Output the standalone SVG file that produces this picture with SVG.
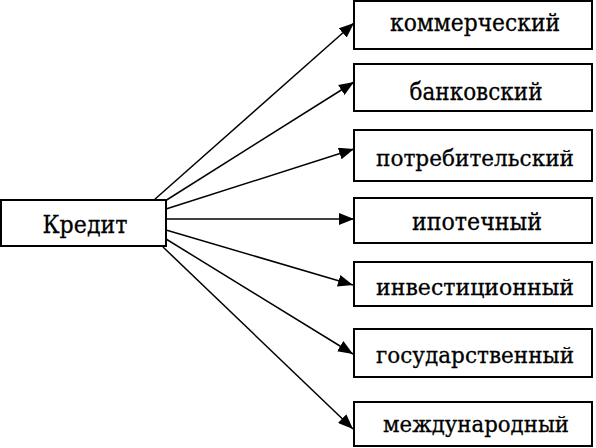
<svg xmlns="http://www.w3.org/2000/svg" width="596" height="448" viewBox="0 0 596 448">
<defs>
<marker id="ah" markerUnits="userSpaceOnUse" markerWidth="16" markerHeight="12" refX="15" refY="6" orient="auto">
<path d="M0,0 L15,6 L0,12 Z" fill="#000"/>
</marker>
<style>
.box{fill:#fff;stroke:#000;stroke-width:2}
.lbl{font-family:"DejaVu Serif","Liberation Serif",serif;font-size:25px;fill:#000;text-anchor:middle;stroke:#000;stroke-width:0.3}
.lng{font-size:23px}
.con{stroke:#000;stroke-width:1.5;fill:none;marker-end:url(#ah)}
</style>
</defs>
<rect width="596" height="448" fill="#fff"/>
<g id="connectors">
<line class="con" x1="154" y1="200" x2="354" y2="23"/>
<line class="con" x1="165" y1="201" x2="354" y2="82"/>
<line class="con" x1="166" y1="209" x2="354" y2="149"/>
<line class="con" x1="166" y1="219" x2="354" y2="219"/>
<line class="con" x1="166" y1="230" x2="353" y2="285"/>
<line class="con" x1="166" y1="239" x2="353" y2="354"/>
<line class="con" x1="163" y1="247" x2="353" y2="429"/>
</g>
<g id="credit">
<rect class="box" x="1" y="200" width="165" height="46"/>
<text class="lbl" x="85" y="233" font-size="24" textLength="85" lengthAdjust="spacingAndGlyphs">Кредит</text>
</g>
<g id="commercial">
<rect class="box" x="354" y="1" width="238" height="48"/>
<text class="lbl" x="475" y="31" textLength="170" lengthAdjust="spacingAndGlyphs">коммерческий</text>
</g>
<g id="bank">
<rect class="box" x="354" y="64" width="238" height="47"/>
<text class="lbl" x="476" y="100" textLength="133" lengthAdjust="spacingAndGlyphs">банковский</text>
</g>
<g id="consumer">
<rect class="box" x="354" y="130" width="238" height="51"/>
<text class="lbl lng" x="475" y="166" textLength="198" lengthAdjust="spacingAndGlyphs">потребительский</text>
</g>
<g id="mortgage">
<rect class="box" x="354" y="198" width="238" height="45"/>
<text class="lbl" x="477" y="230" textLength="130" lengthAdjust="spacingAndGlyphs">ипотечный</text>
</g>
<g id="investment">
<rect class="box" x="354" y="262" width="238" height="44"/>
<text class="lbl lng" x="475" y="295" textLength="198" lengthAdjust="spacingAndGlyphs">инвестиционный</text>
</g>
<g id="state">
<rect class="box" x="354" y="329" width="238" height="48"/>
<text class="lbl lng" x="475" y="363" textLength="198" lengthAdjust="spacingAndGlyphs">государственный</text>
</g>
<g id="international">
<rect class="box" x="354" y="402" width="238" height="44"/>
<text class="lbl lng" x="476" y="432" textLength="186" lengthAdjust="spacingAndGlyphs">международный</text>
</g>
</svg>
